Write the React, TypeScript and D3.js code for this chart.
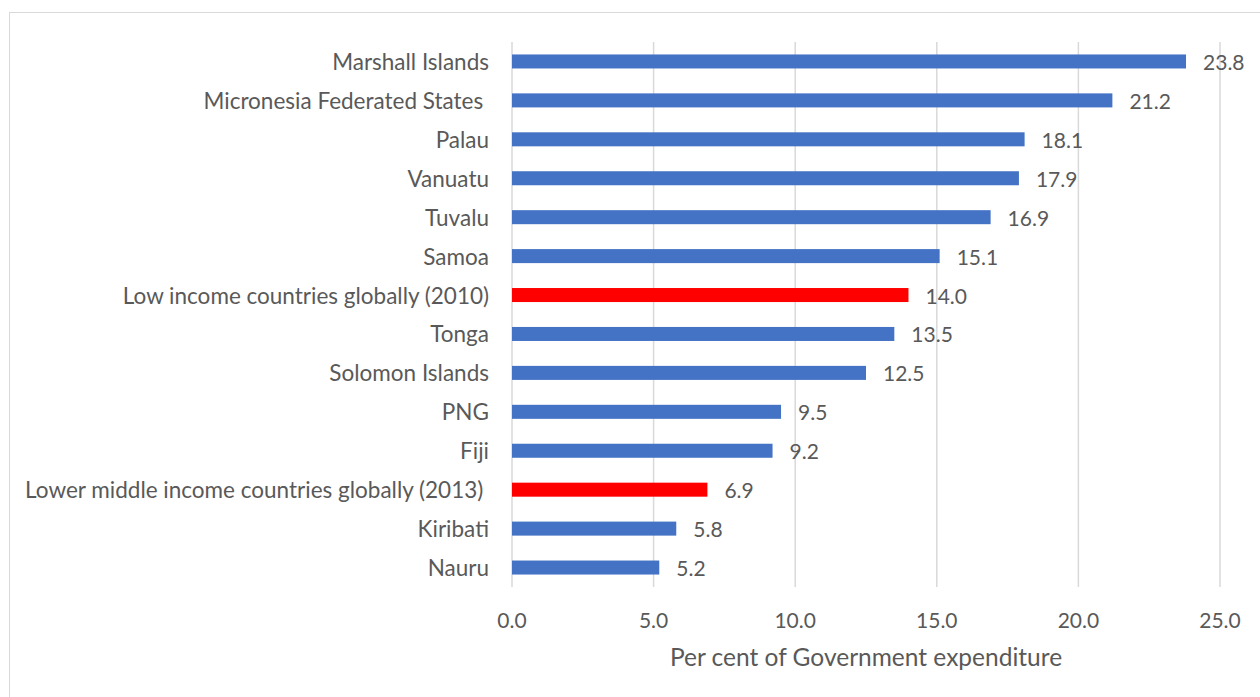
import React from "react";
import * as d3 from "d3";

const categories = [
  "Marshall Islands",
  "Micronesia Federated States ",
  "Palau",
  "Vanuatu",
  "Tuvalu",
  "Samoa",
  "Low income countries globally (2010)",
  "Tonga",
  "Solomon Islands",
  "PNG",
  "Fiji",
  "Lower middle income countries globally (2013) ",
  "Kiribati",
  "Nauru",
];
const values = [23.8, 21.2, 18.1, 17.9, 16.9, 15.1, 14.0, 13.5, 12.5, 9.5, 9.2, 6.9, 5.8, 5.2];
const highlighted = [
  "Low income countries globally (2010)",
  "Lower middle income countries globally (2013) ",
];
const xTicks = [0, 5, 10, 15, 20, 25];
const axisTitle = "Per cent of Government expenditure";

const W = 1260;
const H = 697;
const FONT = "Lato, 'Open Sans', sans-serif";
const TEXT = "#595959";
const GRID = "#d9d9d9";
const BLUE = "#4472C4";
const RED = "#FF0000";

export default function App() {
  const x = d3.scaleLinear().domain([0, 25]).range([512, 1220]);
  const y = d3.scaleBand<string>().domain(categories).range([42, 587]).paddingInner(0.64).paddingOuter(0.32);
  const fmt = d3.format(".1f");

  return (
    <svg width={W} height={H} style={{ position: "absolute", left: 0, top: 0, display: "block" }}>
      <rect x={0} y={0} width={W} height={H} fill="#fff" />
      <rect x={9.5} y={12.5} width={W + 20} height={H + 20} fill="none" stroke={GRID} strokeWidth={1} />
      {xTicks.map((t) => (
        <line key={t} x1={x(t)} x2={x(t)} y1={42} y2={587} stroke={GRID} strokeWidth={1.5} />
      ))}
      {categories.map((c, i) => {
        const yy = y(c) as number;
        const bw = y.bandwidth();
        const isHi = highlighted.includes(c);
        return (
          <g key={c}>
            <rect
              x={x(0)}
              y={yy}
              width={x(values[i]) - x(0)}
              height={bw}
              fill={isHi ? RED : BLUE}
            />
            <text
              x={489}
              y={yy + bw / 2}
              textAnchor="end"
              dominantBaseline="central"
              fontFamily={FONT}
              fontSize={22.5}
              fill={TEXT}
              style={{ whiteSpace: "pre" }}
            >
              {c}
            </text>
            <text
              x={x(values[i]) + 17}
              y={yy + bw / 2}
              dominantBaseline="central"
              fontFamily={FONT}
              fontSize={21}
              fill={TEXT}
            >
              {fmt(values[i])}
            </text>
          </g>
        );
      })}
      {xTicks.map((t) => (
        <text
          key={"l" + t}
          x={x(t)}
          y={619}
          textAnchor="middle"
          dominantBaseline="central"
          fontFamily={FONT}
          fontSize={21}
          fill={TEXT}
        >
          {fmt(t)}
        </text>
      ))}
      <text
        x={(x(0) + x(25)) / 2}
        y={656}
        textAnchor="middle"
        dominantBaseline="central"
        fontFamily={FONT}
        fontSize={24.5}
        fill={TEXT}
      >
        {axisTitle}
      </text>
    </svg>
  );
}
